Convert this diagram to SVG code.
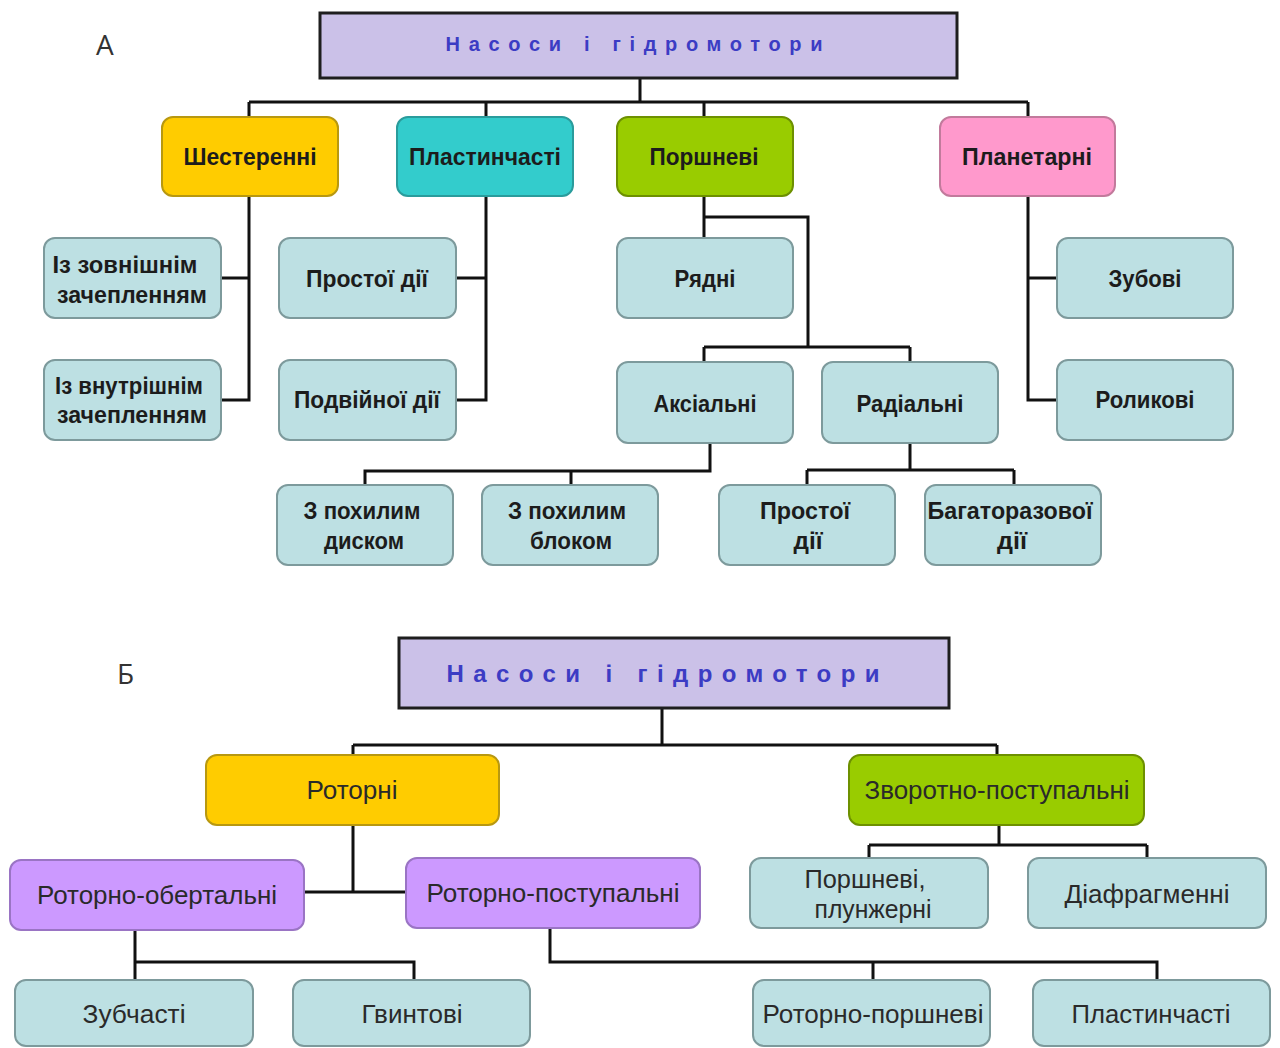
<svg xmlns="http://www.w3.org/2000/svg" width="1280" height="1048" viewBox="0 0 1280 1048">
<style>
.bg{fill:#ffffff}
.lbl{font-family:"Open Sans","Liberation Sans",sans-serif;font-size:28px;fill:#333333}
.title{fill:#cbc1e8;stroke:#1e1e1e;stroke-width:3}
.ttxt{font-family:"Liberation Sans",Arial,sans-serif;font-weight:bold;fill:#3c3cc4;text-anchor:middle}
.box{stroke-width:2}
.gold{fill:#ffcc00;stroke:#b89810}
.teal{fill:#33cccc;stroke:#2a9c9c}
.green{fill:#99cc00;stroke:#6d9000}
.pink{fill:#ff99cc;stroke:#c27a9c}
.light{fill:#bde0e3;stroke:#7d9a9c}
.violet{fill:#cc99ff;stroke:#9a74c4}
.ta{font-family:"Liberation Sans",Arial,sans-serif;font-weight:bold;font-size:23px;fill:#1c1c1c;text-anchor:middle}
.tb{font-family:"Liberation Sans",Arial,sans-serif;font-size:26px;fill:#2a2a2a;text-anchor:middle}
.conn{fill:none;stroke:#111111;stroke-width:3}
</style>
<rect class="bg" x="0" y="0" width="1280" height="1048"/>
<text class="lbl" x="96" y="55">А</text>
<text class="lbl" x="117" y="684">Б</text>

<g id="connectors">
<path class="conn" d="M640,78 V102 M249,102 H1028 M249,102 V117 M486,102 V117 M704,102 V117 M1028,102 V117"/>
<path class="conn" d="M249,196 V400 H221 M249,278 H221"/>
<path class="conn" d="M486,196 V400 H456 M486,278 H456"/>
<path class="conn" d="M704,196 V238 M704,217 H808 V347 M704,347 H910 M704,347 V362 M910,347 V362"/>
<path class="conn" d="M1028,196 V400 H1057 M1028,278 H1057"/>
<path class="conn" d="M710,443 V471 H365 V485 M571,471 V485"/>
<path class="conn" d="M910,443 V470 M807,470 H1014 M807,470 V485 M1014,470 V485"/>
<path class="conn" d="M662,708 V745 M353,745 H997 M353,745 V755 M997,745 V755"/>
<path class="conn" d="M353,825 V892 M304,892 H406"/>
<path class="conn" d="M135,930 V962 H414 V980 M135,962 V980"/>
<path class="conn" d="M550,928 V962 H1157 V980 M873,962 V980"/>
<path class="conn" d="M999,825 V845 M869,845 H1147 M869,845 V858 M1147,845 V858"/>
</g>

<g id="a_title"><rect class="title" x="320" y="13" width="637" height="65"/><text class="ttxt" x="634" y="51" font-size="20" textLength="377" lengthAdjust="spacing">Насоси і гідромотори</text></g>
<g id="a_shest"><rect class="box gold" x="162" y="117" width="176" height="79" rx="11"/><text class="ta" x="250" y="165" textLength="133" lengthAdjust="spacingAndGlyphs">Шестеренні</text></g>
<g id="a_plast"><rect class="box teal" x="397" y="117" width="176" height="79" rx="11"/><text class="ta" x="485" y="165" textLength="152" lengthAdjust="spacingAndGlyphs">Пластинчасті</text></g>
<g id="a_porsh"><rect class="box green" x="617" y="117" width="176" height="79" rx="11"/><text class="ta" x="704" y="165" textLength="109" lengthAdjust="spacingAndGlyphs">Поршневі</text></g>
<g id="a_planet"><rect class="box pink" x="940" y="117" width="175" height="79" rx="11"/><text class="ta" x="1027" y="165" textLength="130" lengthAdjust="spacingAndGlyphs">Планетарні</text></g>

<g id="a_zovn"><rect class="box light" x="44" y="238" width="177" height="80" rx="11"/><text class="ta" x="125" y="273" textLength="145" lengthAdjust="spacingAndGlyphs">Із зовнішнім</text><text class="ta" x="132" y="303" textLength="150" lengthAdjust="spacingAndGlyphs">зачепленням</text></g>
<g id="a_prost1"><rect class="box light" x="279" y="238" width="177" height="80" rx="11"/><text class="ta" x="367" y="287" textLength="122" lengthAdjust="spacingAndGlyphs">Простої дії</text></g>
<g id="a_riadni"><rect class="box light" x="617" y="238" width="176" height="80" rx="11"/><text class="ta" x="705" y="287" textLength="61" lengthAdjust="spacingAndGlyphs">Рядні</text></g>
<g id="a_zubovi"><rect class="box light" x="1057" y="238" width="176" height="80" rx="11"/><text class="ta" x="1145" y="287" textLength="73" lengthAdjust="spacingAndGlyphs">Зубові</text></g>

<g id="a_vnutr"><rect class="box light" x="44" y="360" width="177" height="80" rx="11"/><text class="ta" x="129" y="394" textLength="148" lengthAdjust="spacingAndGlyphs">Із внутрішнім</text><text class="ta" x="132" y="423" textLength="150" lengthAdjust="spacingAndGlyphs">зачепленням</text></g>
<g id="a_podv"><rect class="box light" x="279" y="360" width="177" height="80" rx="11"/><text class="ta" x="367" y="408" textLength="146" lengthAdjust="spacingAndGlyphs">Подвійної дії</text></g>
<g id="a_aks"><rect class="box light" x="617" y="362" width="176" height="81" rx="11"/><text class="ta" x="705" y="412" textLength="103" lengthAdjust="spacingAndGlyphs">Аксіальні</text></g>
<g id="a_rad"><rect class="box light" x="822" y="362" width="176" height="81" rx="11"/><text class="ta" x="910" y="412" textLength="107" lengthAdjust="spacingAndGlyphs">Радіальні</text></g>
<g id="a_rolik"><rect class="box light" x="1057" y="360" width="176" height="80" rx="11"/><text class="ta" x="1145" y="408" textLength="99" lengthAdjust="spacingAndGlyphs">Роликові</text></g>

<g id="a_disk"><rect class="box light" x="277" y="485" width="176" height="80" rx="11"/><text class="ta" x="362" y="519" textLength="117" lengthAdjust="spacingAndGlyphs">З похилим</text><text class="ta" x="364" y="549" textLength="80" lengthAdjust="spacingAndGlyphs">диском</text></g>
<g id="a_blok"><rect class="box light" x="482" y="485" width="176" height="80" rx="11"/><text class="ta" x="567" y="519" textLength="118" lengthAdjust="spacingAndGlyphs">З похилим</text><text class="ta" x="571" y="549" textLength="82" lengthAdjust="spacingAndGlyphs">блоком</text></g>
<g id="a_prost2"><rect class="box light" x="719" y="485" width="176" height="80" rx="11"/><text class="ta" x="805" y="519" textLength="90" lengthAdjust="spacingAndGlyphs">Простої</text><text class="ta" x="808" y="549" textLength="29" lengthAdjust="spacingAndGlyphs">дії</text></g>
<g id="a_bagat"><rect class="box light" x="925" y="485" width="176" height="80" rx="11"/><text class="ta" x="1010" y="519" textLength="165" lengthAdjust="spacingAndGlyphs">Багаторазової</text><text class="ta" x="1012" y="549" textLength="30" lengthAdjust="spacingAndGlyphs">дії</text></g>

<g id="b_title"><rect class="title" x="399" y="638" width="550" height="70"/><text class="ttxt" x="663" y="682" font-size="24" textLength="433" lengthAdjust="spacing">Насоси і гідромотори</text></g>
<g id="b_rotorni"><rect class="box gold" x="206" y="755" width="293" height="70" rx="11"/><text class="tb" x="352" y="799" textLength="91" lengthAdjust="spacingAndGlyphs">Роторні</text></g>
<g id="b_zvor"><rect class="box green" x="849" y="755" width="295" height="70" rx="11"/><text class="tb" x="997" y="799" textLength="265" lengthAdjust="spacingAndGlyphs">Зворотно-поступальні</text></g>
<g id="b_rotob"><rect class="box violet" x="10" y="860" width="294" height="70" rx="11"/><text class="tb" x="157" y="904" textLength="240" lengthAdjust="spacingAndGlyphs">Роторно-обертальні</text></g>
<g id="b_rotpost"><rect class="box violet" x="406" y="858" width="294" height="70" rx="11"/><text class="tb" x="553" y="902" textLength="253" lengthAdjust="spacingAndGlyphs">Роторно-поступальні</text></g>
<g id="b_porshpl"><rect class="box light" x="750" y="858" width="238" height="70" rx="11"/><text class="tb" x="865" y="888" textLength="121" lengthAdjust="spacingAndGlyphs">Поршневі,</text><text class="tb" x="873" y="918" textLength="117" lengthAdjust="spacingAndGlyphs">плунжерні</text></g>
<g id="b_diafr"><rect class="box light" x="1028" y="858" width="238" height="70" rx="11"/><text class="tb" x="1147" y="903" textLength="165" lengthAdjust="spacingAndGlyphs">Діафрагменні</text></g>
<g id="b_zubch"><rect class="box light" x="15" y="980" width="238" height="66" rx="11"/><text class="tb" x="134" y="1023" textLength="103" lengthAdjust="spacingAndGlyphs">Зубчасті</text></g>
<g id="b_gvint"><rect class="box light" x="293" y="980" width="237" height="66" rx="11"/><text class="tb" x="412" y="1023" textLength="101" lengthAdjust="spacingAndGlyphs">Гвинтові</text></g>
<g id="b_rotporsh"><rect class="box light" x="753" y="980" width="237" height="66" rx="11"/><text class="tb" x="873" y="1023" textLength="221" lengthAdjust="spacingAndGlyphs">Роторно-поршневі</text></g>
<g id="b_plast"><rect class="box light" x="1033" y="980" width="237" height="66" rx="11"/><text class="tb" x="1151" y="1023" textLength="159" lengthAdjust="spacingAndGlyphs">Пластинчасті</text></g>
</svg>
